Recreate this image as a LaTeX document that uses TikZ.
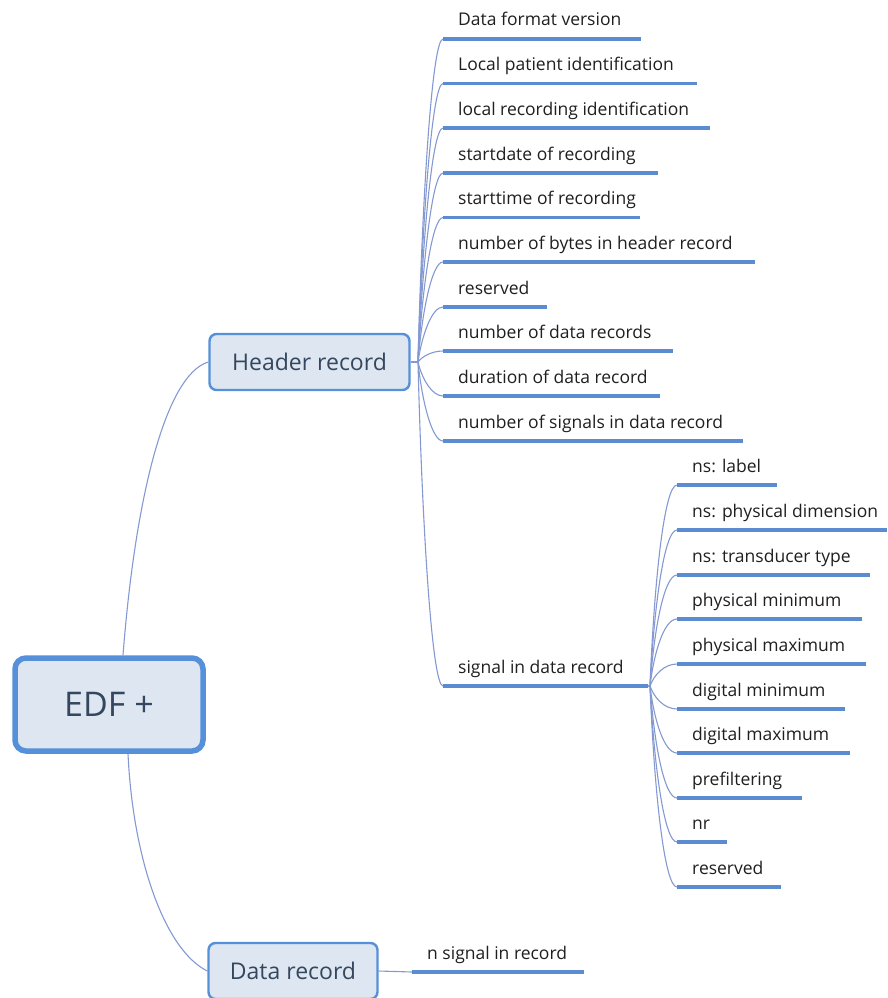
\documentclass[tikz,border=0pt]{standalone}
\usepackage{fontspec}
\setmainfont{Open Sans}
\usetikzlibrary{calc}
\definecolor{boxfill}{HTML}{DDE6F1}
\definecolor{boxline}{HTML}{5590D9}
\definecolor{boxtext}{HTML}{34475E}
\definecolor{branch}{HTML}{5B8BD0}
\definecolor{twig}{HTML}{8499D2}
\definecolor{leaftext}{HTML}{1F1F1F}
\begin{document}
\begin{tikzpicture}[x=1pt,y=-1pt,
  leaf/.style={anchor=base west, inner sep=0pt, font=\fontsize{17.5}{20}\selectfont, text=leaftext},
  uline/.style={draw=branch, line width=3.2pt},
  twigline/.style={draw=twig, line width=1.1pt},
  topic/.style={draw=boxline, fill=boxfill, rounded corners=7pt, line width=2.4pt,
    text=boxtext, font=\fontsize{23}{27}\selectfont, inner sep=0pt}]
\useasboundingbox (0,0) rectangle (887,998);
\clip (0,0) rectangle (887,998);

% central topic and main branches
\node[topic, line width=5.5pt, rounded corners=11pt, minimum width=188pt, minimum height=93pt,
  font=\fontsize{34}{40}\selectfont] (root) at (109,704.5) {EDF +};
\node[topic, minimum width=200pt, minimum height=56pt] (hdr) at (309.5,362) {Header record};
\node[topic, minimum width=169pt, minimum height=56pt] (dat) at (293,971) {Data record};

\draw[twigline] ($(root.north)+(14,0)$) .. controls (135,500) and (165,375) .. (hdr.west);
\draw[twigline] ($(root.south)+(19,0)$) .. controls (133,860) and (165,950) .. (dat.west);

% header record fields
\coordinate (hj) at (418,362);
\draw[twigline] (hdr.east) -- (hj);
\foreach \n/\y/\xe/\t in {
  h1/39/641/Data format version,
  h2/83.5/697/Local patient identification,
  h3/128/710/local recording identification,
  h4/173/658/startdate of recording,
  h5/217.5/640/starttime of recording,
  h6/262/755/number of bytes in header record,
  h7/307/547/reserved,
  h8/351/673/number of data records,
  h9/396/660/duration of data record,
  h10/441/743/number of signals in data record,
  sig/686/648/signal in data record}{
  \node[leaf] (\n) at (458,\y-13) {\t};
  \coordinate (\n-s) at (443,\y);
  \coordinate (\n-e) at (\xe,\y);
  \draw[twigline] (hj) .. controls (422,{\y+(362-\y)*0.5}) and (432,\y) .. (\n-s);
  \draw[uline] (\n-s) -- (\n-e);
}

% per-signal fields
\coordinate (sj) at (650,686);
\draw[twigline] (sig-e) -- (sj);
\foreach \n/\y/\xe/\t in {
  s1/485/777/ns: label,
  s2/530/887/ns: physical dimension,
  s3/575/870/ns: transducer type,
  s4/619/862/physical minimum,
  s5/664/866/physical maximum,
  s6/709/845/digital minimum,
  s7/753/850/digital maximum,
  s8/798/802/prefiltering,
  s9/842/727/nr,
  s10/887/781/reserved}{
  \node[leaf] (\n) at (692,\y-13) {\t};
  \coordinate (\n-s) at (677,\y);
  \coordinate (\n-e) at (\xe,\y);
  \draw[twigline] (sj) .. controls (654,{\y+(686-\y)*0.5}) and (664,\y) .. (\n-s);
  \draw[uline] (\n-s) -- (\n-e);
}

% data record field
\node[leaf] (d1) at (427,959) {n signal in record};
\coordinate (d1-s) at (412,972);
\coordinate (d1-e) at (584,972);
\draw[twigline] (dat.east) -- (d1-s);
\draw[uline] (d1-s) -- (d1-e);
\end{tikzpicture}
\end{document}
